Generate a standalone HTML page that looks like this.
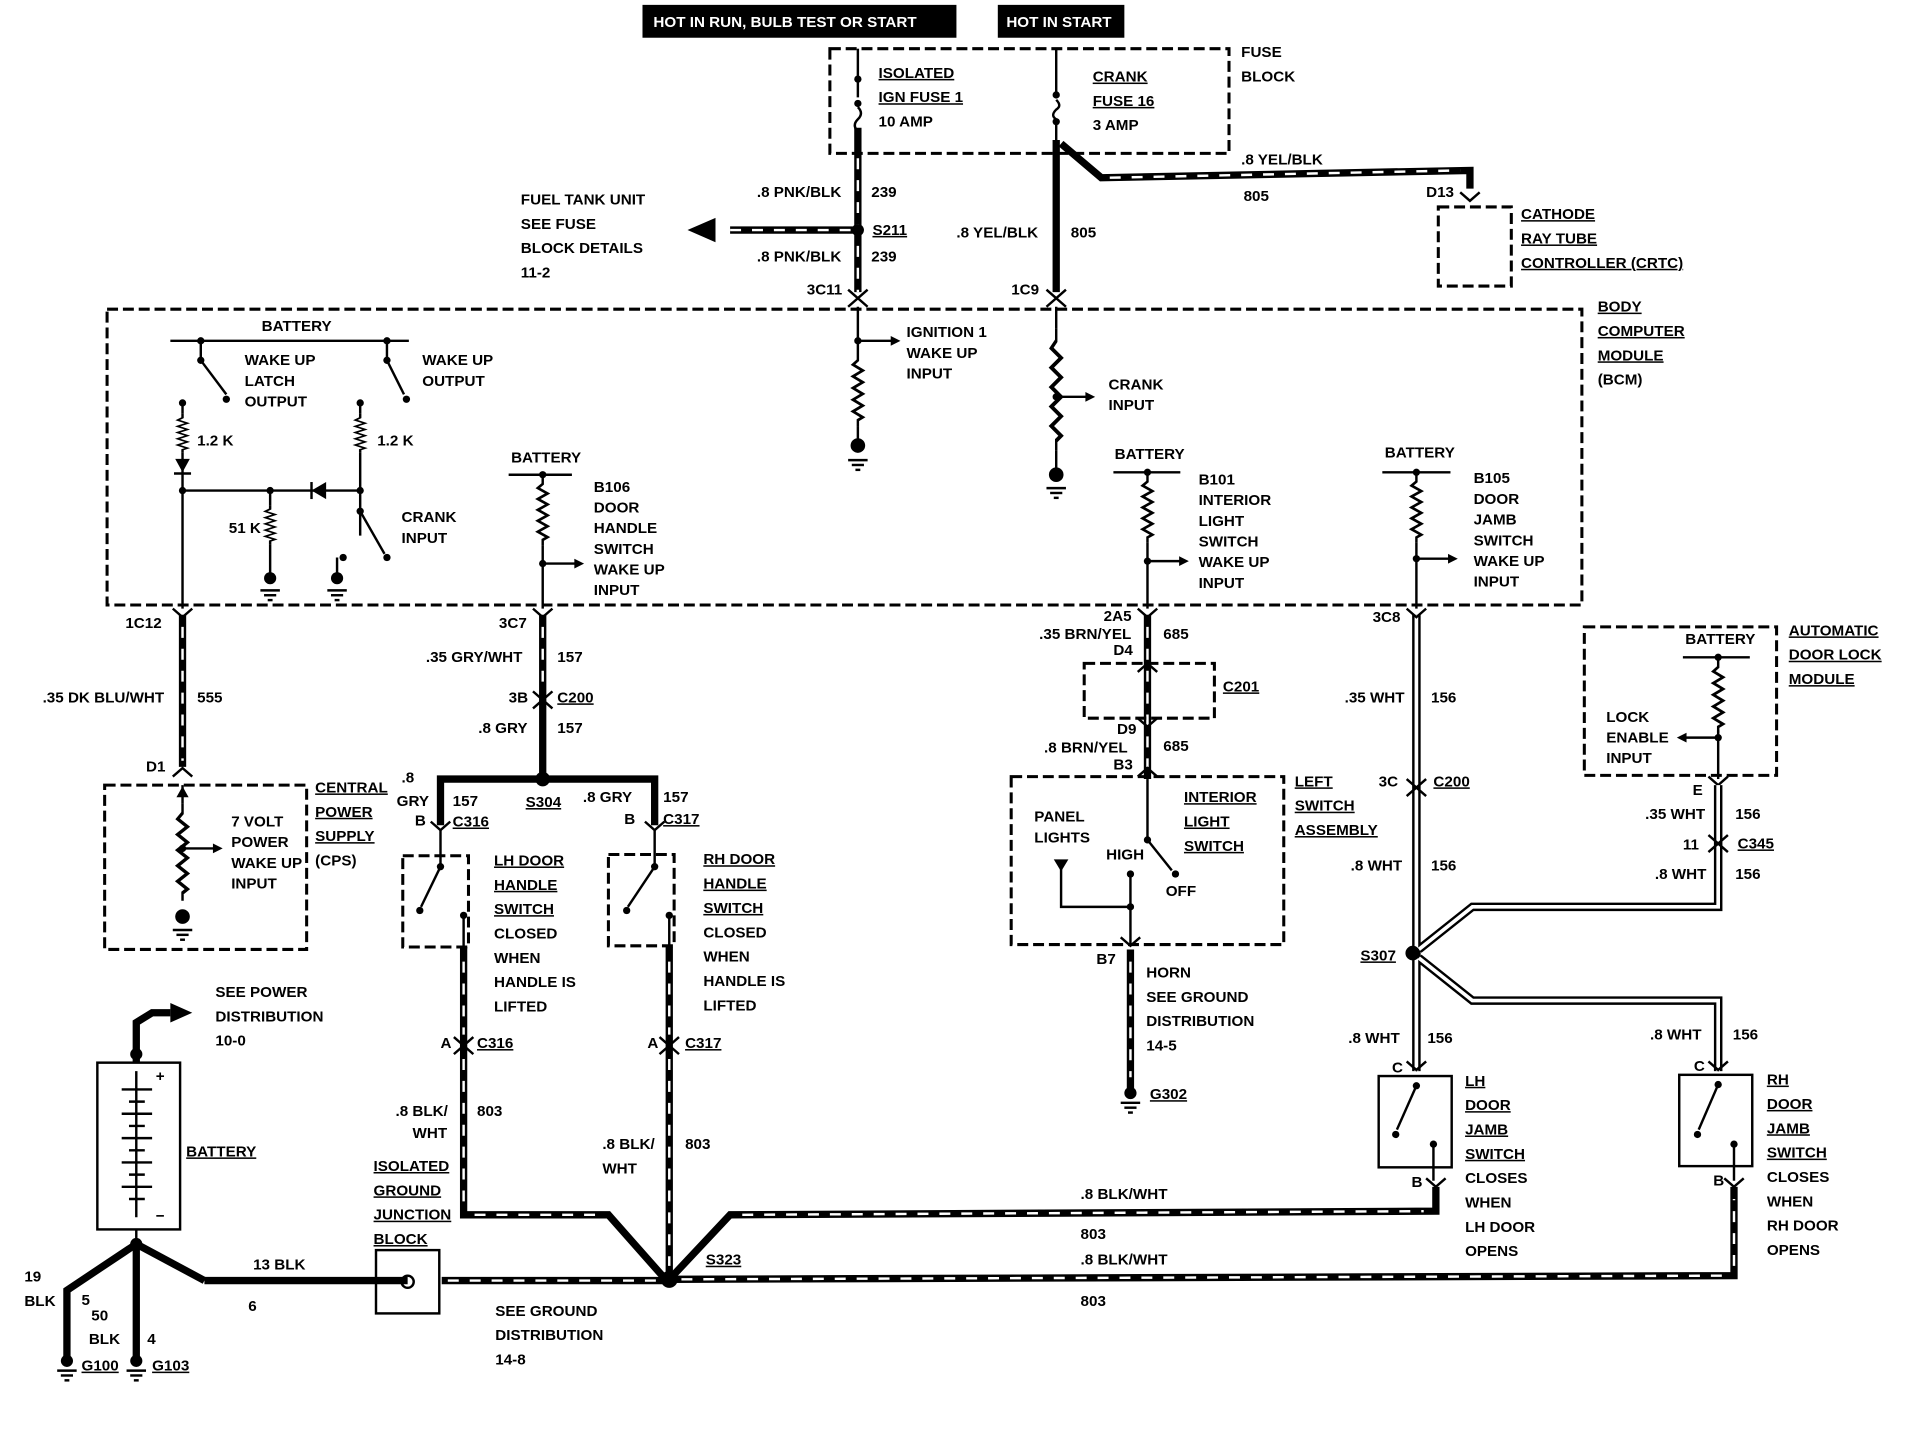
<!DOCTYPE html>
<html><head><meta charset="utf-8"><style>
html,body{margin:0;padding:0;background:#fff}
svg{display:block}
text{font-family:"Liberation Sans",sans-serif;font-weight:bold;font-size:12.5px;fill:#000}
.w{stroke:#000;stroke-width:6;fill:none}
.s{stroke:#fff;stroke-width:2;stroke-dasharray:9 9;fill:none}
.h1{stroke:#000;stroke-width:7;fill:none}
.h2{stroke:#fff;stroke-width:3;fill:none}
.d{stroke:#000;stroke-width:2.5;stroke-dasharray:9 4;fill:none}
.l{stroke:#000;stroke-width:2;fill:none}
.u{text-decoration:underline}
</style></head><body>
<svg width="1908" height="1440" viewBox="0 0 1568 1183" preserveAspectRatio="none" xmlns="http://www.w3.org/2000/svg">
<defs>
<symbol id="r" viewBox="0 0 10 50" preserveAspectRatio="none" overflow="visible"><polyline points="5,0 5,5 1,8 9,12 1,16 9,20 1,24 9,28 1,32 9,36 1,40 9,44 5,46 5,50" class="l" stroke-width="1.6"/></symbol>
<symbol id="g" overflow="visible"><line x1="-8" y1="0" x2="8" y2="0" class="l"/><line x1="-5" y1="4" x2="5" y2="4" class="l"/><line x1="-2" y1="8" x2="2" y2="8" class="l"/></symbol>
</defs>
<rect width="1568" height="1183" fill="#fff"/>
<rect x="528" y="4" width="258" height="27" fill="#000"/><text x="537" y="22" style="fill:#fff">HOT IN RUN, BULB TEST OR START</text>
<rect x="820" y="4" width="104" height="27" fill="#000"/><text x="827" y="22" style="fill:#fff">HOT IN START</text>
<rect x="682" y="40" width="328" height="86" class="d"/>
<text x="1020" y="47">FUSE</text><text x="1020" y="67">BLOCK</text>
<line x1="705" y1="40" x2="705" y2="80" class="l"/><circle cx="705" cy="65" r="3"/><circle cx="705" cy="85" r="3"/><path d="M705 88 q5 5 0 10 q-5 5 0 10" class="l"/>
<text x="722" y="64" class="u">ISOLATED</text><text x="722" y="84" class="u">IGN FUSE 1</text><text x="722" y="104" font-size="10">10 AMP</text>
<line x1="868" y1="40" x2="868" y2="80" class="l"/><circle cx="868" cy="78" r="3"/><circle cx="868" cy="100" r="3"/><path d="M868 82 q5 5 0 8 q-5 5 0 8" class="l"/><line x1="868" y1="100" x2="868" y2="118" class="l"/>
<text x="898" y="67" class="u">CRANK</text><text x="898" y="87" class="u">FUSE 16</text><text x="898" y="107" font-size="10">3 AMP</text>
<line x1="705" y1="105" x2="705" y2="240" class="w"/><line x1="705" y1="130" x2="705" y2="240" class="s"/>
<circle cx="705" cy="189" r="5"/>
<line x1="600" y1="189" x2="705" y2="189" class="w"/><line x1="600" y1="189" x2="700" y2="189" class="s"/>
<polygon points="565,189 588,179 588,199"/>
<text x="622" y="162">.8 PNK/BLK</text><text x="716" y="162">239</text>
<text x="622" y="215">.8 PNK/BLK</text><text x="716" y="215">239</text>
<text x="717" y="193" class="u">S211</text>
<text x="428" y="168">FUEL TANK UNIT</text><text x="428" y="188">SEE FUSE</text><text x="428" y="208">BLOCK DETAILS</text><text x="428" y="228">11-2</text>
<text x="663" y="242">3C11</text>
<path d="M697 238 l8 7 l8 -7" class="l" stroke-width="2.5"/><path d="M697 252 l8 -7 l8 7" class="l" stroke-width="2.5"/>
<line x1="868" y1="115" x2="868" y2="240" class="w"/>
<path d="M872 118 L905 146 L1208 140 L1208 155" class="w"/><path d="M912 146 L1200 140" class="s"/>
<text x="786" y="195">.8 YEL/BLK</text><text x="880" y="195">805</text>
<text x="1020" y="135">.8 YEL/BLK</text><text x="1022" y="165">805</text>
<text x="1172" y="162">D13</text>
<path d="M1200 158 l8 7 l8 -7" class="l" stroke-width="2.5"/>
<rect x="1182" y="170" width="60" height="65" class="d"/>
<text x="1250" y="180" class="u">CATHODE</text><text x="1250" y="200" class="u">RAY TUBE</text><text x="1250" y="220" class="u">CONTROLLER (CRTC)</text>
<text x="831" y="242">1C9</text>
<path d="M860 238 l8 7 l8 -7" class="l" stroke-width="2.5"/><path d="M860 252 l8 -7 l8 7" class="l" stroke-width="2.5"/>
<rect x="88" y="254" width="1212" height="243" class="d"/>
<text x="1313" y="256" class="u">BODY</text><text x="1313" y="276" class="u">COMPUTER</text><text x="1313" y="296" class="u">MODULE</text><text x="1313" y="316">(BCM)</text>
<text x="215" y="272" font-size="11">BATTERY</text>
<line x1="140" y1="280" x2="336" y2="280" class="l"/>
<circle cx="165" cy="280" r="3"/><circle cx="165" cy="296" r="3"/><line x1="165" y1="280" x2="165" y2="296" class="l"/><line x1="165" y1="296" x2="186" y2="324" class="l"/><circle cx="186" cy="328" r="3"/>
<circle cx="150" cy="331" r="3"/><line x1="150" y1="331" x2="150" y2="340" class="l"/>
<circle cx="318" cy="280" r="3"/><circle cx="318" cy="296" r="3"/><line x1="318" y1="280" x2="318" y2="296" class="l"/><line x1="318" y1="296" x2="332" y2="324" class="l"/><circle cx="334" cy="328" r="3"/>
<circle cx="296" cy="331" r="3"/><line x1="296" y1="331" x2="296" y2="340" class="l"/>
<text x="201" y="300" font-size="11">WAKE UP</text><text x="201" y="317" font-size="11">LATCH</text><text x="201" y="334" font-size="11">OUTPUT</text>
<text x="347" y="300" font-size="11">WAKE UP</text><text x="347" y="317" font-size="11">OUTPUT</text>
<use href="#r" x="145" y="340" width="10" height="32"/><text x="162" y="366" font-size="11">1.2 K</text>
<use href="#r" x="291" y="340" width="10" height="32"/><text x="310" y="366" font-size="11">1.2 K</text>
<polygon points="144,377 156,377 150,388"/><line x1="143" y1="389" x2="157" y2="389" class="l"/>
<line x1="150" y1="372" x2="150" y2="500" class="l"/>
<line x1="296" y1="372" x2="296" y2="440" class="l"/>
<line x1="150" y1="403" x2="296" y2="403" class="l"/><circle cx="150" cy="403" r="3"/><circle cx="222" cy="403" r="3"/><circle cx="296" cy="403" r="3"/>
<polygon points="256,403 268,396 268,410"/><line x1="256" y1="396" x2="256" y2="410" class="l"/>
<line x1="222" y1="403" x2="222" y2="415" class="l"/><use href="#r" x="217" y="415" width="10" height="32"/><line x1="222" y1="447" x2="222" y2="475" class="l"/><circle cx="222" cy="475" r="5"/><use href="#g" x="222" y="485"/>
<text x="188" y="438" font-size="11">51 K</text>
<circle cx="296" cy="420" r="3"/><line x1="296" y1="420" x2="316" y2="455" class="l"/><circle cx="318" cy="458" r="3"/>
<circle cx="282" cy="458" r="3"/><line x1="277" y1="458" x2="277" y2="475" class="l"/><circle cx="277" cy="475" r="5"/><use href="#g" x="277" y="485"/>
<text x="330" y="429" font-size="11">CRANK</text><text x="330" y="446" font-size="11">INPUT</text>
<line x1="705" y1="252" x2="705" y2="290" class="l"/><circle cx="705" cy="280" r="3"/><line x1="705" y1="280" x2="735" y2="280" class="l"/><polygon points="740,280 732,276 732,284"/>
<use href="#r" x="700" y="290" width="10" height="60"/><line x1="705" y1="350" x2="705" y2="365" class="l"/><circle cx="705" cy="366" r="6"/><use href="#g" x="705" y="378"/>
<text x="745" y="277" font-size="11">IGNITION 1</text><text x="745" y="294" font-size="11">WAKE UP</text><text x="745" y="311" font-size="11">INPUT</text>
<line x1="868" y1="252" x2="868" y2="270" class="l"/><use href="#r" x="863" y="270" width="10" height="100"/><circle cx="868" cy="326" r="3"/><line x1="868" y1="326" x2="895" y2="326" class="l"/><polygon points="900,326 892,322 892,330"/>
<line x1="868" y1="370" x2="868" y2="385" class="l"/><circle cx="868" cy="390" r="6"/><use href="#g" x="868" y="401"/>
<text x="911" y="320" font-size="11">CRANK</text><text x="911" y="337" font-size="11">INPUT</text>
<text x="420" y="380" font-size="11">BATTERY</text><line x1="418" y1="390" x2="470" y2="390" class="l"/><circle cx="446" cy="390" r="3"/>
<use href="#r" x="441" y="392" width="10" height="56"/><circle cx="446" cy="463" r="3"/><line x1="446" y1="463" x2="475" y2="463" class="l"/><polygon points="480,463 472,459 472,467"/>
<line x1="446" y1="448" x2="446" y2="500" class="l"/>
<text x="488" y="404" font-size="11">B106</text><text x="488" y="421" font-size="11">DOOR</text><text x="488" y="438" font-size="11">HANDLE</text><text x="488" y="455" font-size="11">SWITCH</text><text x="488" y="472" font-size="11">WAKE UP</text><text x="488" y="489" font-size="11">INPUT</text>
<text x="916" y="377" font-size="11">BATTERY</text><line x1="915" y1="388" x2="970" y2="388" class="l"/><circle cx="943" cy="388" r="3"/>
<use href="#r" x="938" y="390" width="10" height="56"/><circle cx="943" cy="461" r="3"/><line x1="943" y1="461" x2="972" y2="461" class="l"/><polygon points="977,461 969,457 969,465"/>
<line x1="943" y1="446" x2="943" y2="500" class="l"/>
<text x="985" y="398" font-size="11">B101</text><text x="985" y="415" font-size="11">INTERIOR</text><text x="985" y="432" font-size="11">LIGHT</text><text x="985" y="449" font-size="11">SWITCH</text><text x="985" y="466" font-size="11">WAKE UP</text><text x="985" y="483" font-size="11">INPUT</text>
<text x="1138" y="376" font-size="11">BATTERY</text><line x1="1136" y1="388" x2="1192" y2="388" class="l"/><circle cx="1164" cy="388" r="3"/>
<use href="#r" x="1159" y="390" width="10" height="56"/><circle cx="1164" cy="459" r="3"/><line x1="1164" y1="459" x2="1193" y2="459" class="l"/><polygon points="1198,459 1190,455 1190,463"/>
<line x1="1164" y1="446" x2="1164" y2="500" class="l"/>
<text x="1211" y="397" font-size="11">B105</text><text x="1211" y="414" font-size="11">DOOR</text><text x="1211" y="431" font-size="11">JAMB</text><text x="1211" y="448" font-size="11">SWITCH</text><text x="1211" y="465" font-size="11">WAKE UP</text><text x="1211" y="482" font-size="11">INPUT</text>
<line x1="150" y1="505" x2="150" y2="630" class="w"/><line x1="150" y1="515" x2="150" y2="625" class="s"/>
<path d="M142 500 l8 7 l8 -7" class="l" stroke-width="2.5"/><path d="M142 638 l8 -7 l8 7" class="l" stroke-width="2.5"/>
<text x="103" y="516">1C12</text><text x="35" y="577">.35 DK BLU/WHT</text><text x="162" y="577">555</text><text x="120" y="634">D1</text>
<rect x="86" y="645" width="166" height="135" class="d"/>
<line x1="150" y1="645" x2="150" y2="660" class="l"/><use href="#r" x="145" y="660" width="10" height="80"/><circle cx="150" cy="697" r="3"/><line x1="150" y1="697" x2="178" y2="697" class="l"/><polygon points="183,697 175,693 175,701"/>
<polygon points="150,646 145,655 155,655"/>
<circle cx="150" cy="753" r="6"/><use href="#g" x="150" y="764"/>
<text x="190" y="679" font-size="11">7 VOLT</text><text x="190" y="696" font-size="11">POWER</text><text x="190" y="713" font-size="11">WAKE UP</text><text x="190" y="730" font-size="11">INPUT</text>
<text x="259" y="651" class="u">CENTRAL</text><text x="259" y="671" class="u">POWER</text><text x="259" y="691" class="u">SUPPLY</text><text x="259" y="711">(CPS)</text>
<line x1="446" y1="505" x2="446" y2="640" class="w"/><line x1="446" y1="515" x2="446" y2="565" class="s"/>
<path d="M438 500 l8 7 l8 -7" class="l" stroke-width="2.5"/>
<path d="M438 568 l8 7 l8 -7" class="l" stroke-width="2.5"/><path d="M438 582 l8 -7 l8 7" class="l" stroke-width="2.5"/>
<text x="410" y="516">3C7</text><text x="350" y="544">.35 GRY/WHT</text><text x="458" y="544">157</text>
<text x="418" y="577">3B</text><text x="458" y="577" class="u">C200</text>
<text x="393" y="602">.8 GRY</text><text x="458" y="602">157</text>
<path d="M362 678 L362 640 L538 640 L538 678" class="w"/><circle cx="446" cy="640" r="6"/>
<text x="330" y="643">.8</text><text x="326" y="662">GRY</text><text x="372" y="662">157</text><text x="432" y="663" class="u">S304</text>
<text x="479" y="659">.8 GRY</text><text x="545" y="659">157</text>
<text x="341" y="678">B</text><text x="372" y="679" class="u">C316</text><text x="513" y="677">B</text><text x="545" y="677" class="u">C317</text>
<path d="M354 675 l8 7 l8 -7" class="l" stroke-width="2.5"/><path d="M530 675 l8 7 l8 -7" class="l" stroke-width="2.5"/>
<rect x="331" y="703" width="54" height="75" class="d"/>
<line x1="362" y1="682" x2="362" y2="712" class="l"/><circle cx="362" cy="712" r="3"/><line x1="362" y1="712" x2="346" y2="745" class="l"/><circle cx="345" cy="748" r="3"/><circle cx="381" cy="752" r="3"/><line x1="381" y1="752" x2="381" y2="780" class="l"/>
<text x="406" y="711" class="u">LH DOOR</text><text x="406" y="731" class="u">HANDLE</text><text x="406" y="751" class="u">SWITCH</text><text x="406" y="771">CLOSED</text><text x="406" y="791">WHEN</text><text x="406" y="811">HANDLE IS</text><text x="406" y="831">LIFTED</text>
<rect x="500" y="702" width="54" height="75" class="d"/>
<line x1="538" y1="682" x2="538" y2="712" class="l"/><circle cx="538" cy="712" r="3"/><line x1="538" y1="712" x2="516" y2="745" class="l"/><circle cx="515" cy="748" r="3"/><circle cx="550" cy="752" r="3"/><line x1="550" y1="752" x2="550" y2="780" class="l"/>
<text x="578" y="710" class="u">RH DOOR</text><text x="578" y="730" class="u">HANDLE</text><text x="578" y="750" class="u">SWITCH</text><text x="578" y="770">CLOSED</text><text x="578" y="790">WHEN</text><text x="578" y="810">HANDLE IS</text><text x="578" y="830">LIFTED</text>
<path d="M381 778 L381 998 L500 998 L546 1050" class="w"/><path d="M381 790 L381 850 M381 870 L381 990 M390 998 L495 998" class="s"/>
<line x1="550" y1="778" x2="550" y2="1050" class="w"/><path d="M550 790 L550 850 M550 870 L550 1040" class="s"/>
<path d="M373 852 l8 7 l8 -7" class="l" stroke-width="2.5"/><path d="M373 866 l8 -7 l8 7" class="l" stroke-width="2.5"/>
<path d="M542 852 l8 7 l8 -7" class="l" stroke-width="2.5"/><path d="M542 866 l8 -7 l8 7" class="l" stroke-width="2.5"/>
<text x="362" y="861">A</text><text x="392" y="861" class="u">C316</text><text x="532" y="861">A</text><text x="563" y="861" class="u">C317</text>
<text x="325" y="917">.8 BLK/</text><text x="339" y="935">WHT</text><text x="392" y="917">803</text>
<text x="495" y="944">.8 BLK/</text><text x="495" y="964">WHT</text><text x="563" y="944">803</text>
<circle cx="550" cy="1051" r="7"/><text x="580" y="1039" class="u">S323</text>
<path d="M553 1048 L600 998 L1180 995 L1180 975" class="w"/><path d="M610 998 L1170 995" class="s"/>
<path d="M1172 968 l8 7 l8 -7" class="l" stroke-width="2.5"/>
<path d="M550 1051 L1425 1048 L1425 975" class="w"/><path d="M560 1051 L1415 1048 M1425 1040 L1425 985" class="s"/>
<path d="M1417 968 l8 7 l8 -7" class="l" stroke-width="2.5"/>
<text x="888" y="985">.8 BLK/WHT</text><text x="888" y="1018">803</text><text x="888" y="1039">.8 BLK/WHT</text><text x="888" y="1073">803</text>
<path d="M168 1052 L335 1052" class="w"/><path d="M363 1052 L550 1052" class="w"/><path d="M368 1052 L545 1052" class="s"/>
<rect x="309" y="1027" width="52" height="52" fill="#fff" class="l" stroke-width="2"/><circle cx="335" cy="1053" r="5" fill="#fff" class="l"/>
<text x="307" y="962" class="u">ISOLATED</text><text x="307" y="982" class="u">GROUND</text><text x="307" y="1002" class="u">JUNCTION</text><text x="307" y="1022" class="u">BLOCK</text>
<text x="407" y="1081">SEE GROUND</text><text x="407" y="1101">DISTRIBUTION</text><text x="407" y="1121">14-8</text>
<text x="208" y="1043">13 BLK</text><text x="204" y="1077">6</text>
<rect x="80" y="873" width="68" height="137" class="l" stroke-width="2"/>
<text x="128" y="888" font-size="11">+</text><text x="128" y="1003" font-size="11">−</text>
<g class="l" stroke-width="1.5"><line x1="100" y1="895" x2="125" y2="895"/><line x1="106" y1="905" x2="119" y2="905"/><line x1="100" y1="915" x2="125" y2="915"/><line x1="106" y1="925" x2="119" y2="925"/><line x1="100" y1="935" x2="125" y2="935"/><line x1="106" y1="945" x2="119" y2="945"/><line x1="100" y1="955" x2="125" y2="955"/><line x1="106" y1="965" x2="119" y2="965"/><line x1="100" y1="975" x2="125" y2="975"/><line x1="106" y1="985" x2="119" y2="985"/><line x1="112" y1="880" x2="112" y2="1000"/></g>
<path d="M112 873 L112 840 L125 832 L140 832" class="w"/><circle cx="112" cy="866" r="5"/><polygon points="158,832 140,824 140,840"/>
<text x="177" y="819">SEE POWER</text><text x="177" y="839">DISTRIBUTION</text><text x="177" y="859">10-0</text>
<text x="153" y="950" class="u">BATTERY</text>
<line x1="112" y1="1010" x2="112" y2="1022" class="l"/><circle cx="112" cy="1022" r="5"/>
<path d="M112 1022 L55 1060 L55 1115" class="w"/><path d="M112 1022 L112 1115" class="w"/><path d="M112 1022 L168 1052" class="w"/>
<circle cx="55" cy="1118" r="5"/><use href="#g" x="55" y="1126"/><circle cx="112" cy="1118" r="5"/><use href="#g" x="112" y="1126"/>
<text x="20" y="1053">19</text><text x="20" y="1073">BLK</text><text x="67" y="1072">5</text><text x="75" y="1085">50</text><text x="73" y="1104">BLK</text><text x="121" y="1104">4</text>
<text x="67" y="1126" class="u">G100</text><text x="125" y="1126" class="u">G103</text>
<line x1="943" y1="505" x2="943" y2="640" class="w"/><line x1="943" y1="515" x2="943" y2="630" class="s"/>
<path d="M935 500 l8 7 l8 -7" class="l" stroke-width="2.5"/><path d="M935 552 l8 -7 l8 7" class="l" stroke-width="2.5"/><path d="M935 590 l8 7 l8 -7" class="l" stroke-width="2.5"/><path d="M935 638 l8 -7 l8 7" class="l" stroke-width="2.5"/>
<rect x="891" y="545" width="107" height="45" class="d"/>
<text x="907" y="510">2A5</text><text x="854" y="525">.35 BRN/YEL</text><text x="956" y="525">685</text><text x="915" y="538">D4</text>
<text x="1005" y="568" class="u">C201</text><text x="918" y="603">D9</text><text x="858" y="618">.8 BRN/YEL</text><text x="956" y="617">685</text><text x="915" y="632">B3</text>
<rect x="831" y="638" width="224" height="138" class="d"/>
<text x="1064" y="646" class="u">LEFT</text><text x="1064" y="666" class="u">SWITCH</text><text x="1064" y="686" class="u">ASSEMBLY</text>
<line x1="943" y1="640" x2="943" y2="690" class="l"/><circle cx="943" cy="690" r="3"/><line x1="943" y1="690" x2="963" y2="715" class="l"/><circle cx="966" cy="718" r="3"/>
<circle cx="929" cy="718" r="3"/><line x1="929" y1="718" x2="929" y2="775" class="l"/><circle cx="929" cy="745" r="3"/>
<path d="M929 745 L872 745 L872 712" class="l"/><polygon points="866,706 878,706 872,716"/>
<text x="850" y="675" font-size="11">PANEL</text><text x="850" y="692" font-size="11">LIGHTS</text><text x="909" y="706" font-size="11">HIGH</text><text x="958" y="736" font-size="11">OFF</text>
<text x="973" y="659" class="u">INTERIOR</text><text x="973" y="679" class="u">LIGHT</text><text x="973" y="699" class="u">SWITCH</text>
<path d="M921 770 l8 7 l8 -7" class="l" stroke-width="2.5"/>
<line x1="929" y1="780" x2="929" y2="895" class="w"/><line x1="929" y1="790" x2="929" y2="885" class="s"/>
<circle cx="929" cy="898" r="5"/><use href="#g" x="929" y="906"/>
<text x="901" y="792">B7</text><text x="942" y="803">HORN</text><text x="942" y="823">SEE GROUND</text><text x="942" y="843">DISTRIBUTION</text><text x="942" y="863">14-5</text>
<text x="945" y="903" class="u">G302</text>
<g>
<path d="M1164 505 L1164 783 M1164 783 L1164 880 M1166 780 L1210 745 L1412 745 L1412 695 M1166 787 L1210 822 L1412 822 L1412 880" class="h1"/>
<path d="M1164 505 L1164 783 M1164 783 L1164 880 M1166 780 L1210 745 L1412 745 L1412 695 M1166 787 L1210 822 L1412 822 L1412 880" class="h2"/>
</g>
<circle cx="1161" cy="783" r="6"/>
<path d="M1156 500 l8 7 l8 -7" class="l" stroke-width="2.5"/>
<path d="M1156 640 l8 7 l8 -7" class="l" stroke-width="2.5"/><path d="M1156 654 l8 -7 l8 7" class="l" stroke-width="2.5"/>
<text x="1128" y="511">3C8</text><text x="1105" y="577">.35 WHT</text><text x="1176" y="577">156</text>
<text x="1133" y="646">3C</text><text x="1178" y="646" class="u">C200</text>
<text x="1110" y="715">.8 WHT</text><text x="1176" y="715">156</text>
<text x="1118" y="789" class="u">S307</text>
<text x="1108" y="857">.8 WHT</text><text x="1173" y="857">156</text>
<text x="1356" y="854">.8 WHT</text><text x="1424" y="854">156</text>
<rect x="1302" y="515" width="158" height="122" class="d"/>
<text x="1385" y="529" font-size="11">BATTERY</text><line x1="1383" y1="540" x2="1438" y2="540" class="l"/><circle cx="1412" cy="540" r="3"/>
<use href="#r" x="1407" y="542" width="10" height="60"/><circle cx="1412" cy="606" r="3"/><line x1="1412" y1="606" x2="1385" y2="606" class="l"/><polygon points="1378,606 1386,602 1386,610"/>
<line x1="1412" y1="600" x2="1412" y2="640" class="l"/>
<text x="1320" y="593" font-size="11">LOCK</text><text x="1320" y="610" font-size="11">ENABLE</text><text x="1320" y="627" font-size="11">INPUT</text>
<text x="1470" y="522" class="u">AUTOMATIC</text><text x="1470" y="542" class="u">DOOR LOCK</text><text x="1470" y="562" class="u">MODULE</text>
<path d="M1404 638 l8 7 l8 -7" class="l" stroke-width="2.5"/>
<path d="M1412 645 L1412 695" class="h1"/><path d="M1412 645 L1412 695" class="h2"/>
<path d="M1404 686 l8 7 l8 -7" class="l" stroke-width="2.5"/><path d="M1404 700 l8 -7 l8 7" class="l" stroke-width="2.5"/>
<text x="1391" y="653">E</text><text x="1352" y="673">.35 WHT</text><text x="1426" y="673">156</text>
<text x="1383" y="698">11</text><text x="1428" y="697" class="u">C345</text>
<text x="1360" y="722">.8 WHT</text><text x="1426" y="722">156</text>
<rect x="1133" y="884" width="60" height="75" class="l" stroke-width="2"/>
<path d="M1156 872 l8 7 l8 -7" class="l" stroke-width="2.5"/>
<circle cx="1164" cy="892" r="3"/><line x1="1164" y1="892" x2="1148" y2="928" class="l"/><circle cx="1147" cy="932" r="3"/><circle cx="1178" cy="940" r="3"/><line x1="1178" y1="940" x2="1178" y2="970" class="l"/>
<text x="1144" y="881">C</text><text x="1160" y="975">B</text>
<text x="1204" y="892" class="u">LH</text><text x="1204" y="912" class="u">DOOR</text><text x="1204" y="932" class="u">JAMB</text><text x="1204" y="952" class="u">SWITCH</text><text x="1204" y="972">CLOSES</text><text x="1204" y="992">WHEN</text><text x="1204" y="1012">LH DOOR</text><text x="1204" y="1032">OPENS</text>
<rect x="1380" y="883" width="60" height="75" class="l" stroke-width="2"/>
<path d="M1404 872 l8 7 l8 -7" class="l" stroke-width="2.5"/>
<circle cx="1412" cy="891" r="3"/><line x1="1412" y1="891" x2="1396" y2="928" class="l"/><circle cx="1395" cy="932" r="3"/><circle cx="1425" cy="940" r="3"/><line x1="1425" y1="940" x2="1425" y2="970" class="l"/>
<text x="1392" y="880">C</text><text x="1408" y="974">B</text>
<text x="1452" y="891" class="u">RH</text><text x="1452" y="911" class="u">DOOR</text><text x="1452" y="931" class="u">JAMB</text><text x="1452" y="951" class="u">SWITCH</text><text x="1452" y="971">CLOSES</text><text x="1452" y="991">WHEN</text><text x="1452" y="1011">RH DOOR</text><text x="1452" y="1031">OPENS</text>
</svg>
</body></html>
